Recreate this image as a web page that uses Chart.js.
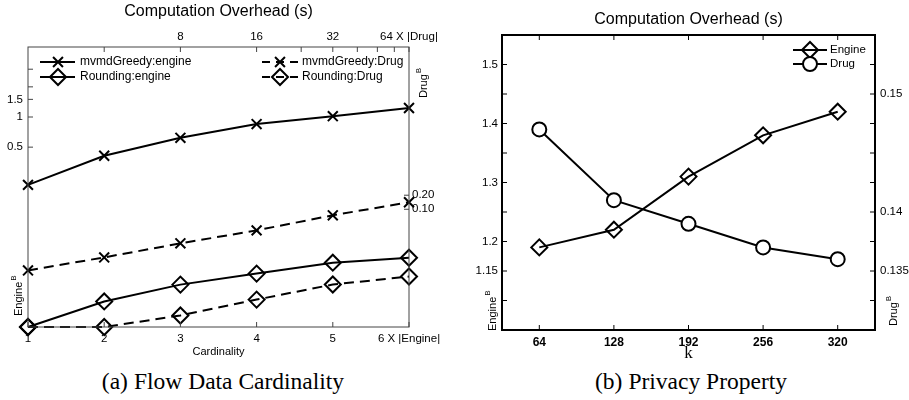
<!DOCTYPE html>
<html>
<head>
<meta charset="utf-8">
<script src="https://cdn.jsdelivr.net/npm/chart.js@4.4.0/dist/chart.umd.min.js"></script>
<style>
  body { margin: 0; background: #fff; width: 909px; height: 400px; position: relative; overflow: hidden; }
  .box { position: absolute; top: 0; height: 365px; }
  #boxA { left: 0; width: 455px; }
  #boxB { left: 455px; width: 454px; }
  .cap { position: absolute; top: 367px; line-height: 28px; font-family: "Liberation Serif", "Times New Roman", serif; font-size: 23.5px; color: #000; white-space: nowrap; transform: translateX(-50%); }
  .cap span { margin-right: 6px; }
</style>
</head>
<body>
<div class="box" id="boxA"><canvas id="chartA"></canvas></div>
<div class="box" id="boxB"><canvas id="chartB"></canvas></div>
<div class="cap" style="left:223px"><span>(a)</span>Flow Data Cardinality</div>
<div class="cap" style="left:691px"><span>(b)</span>Privacy Property</div>
<script>
// (a) cardinality sweep
const cardLabels = ['1', '2', '3', '4', '5', '6 X |Engine|'];
const greedyEngine = [0.21, 0.41, 0.62, 0.85, 1.02, 1.23];
const roundingEngine = [0.008, 0.0144, 0.0212, 0.0273, 0.0351, 0.0393];
const greedyDrug = [0.0049, 0.0093, 0.0186, 0.0353, 0.0743, 0.1415];
const roundingDrug = [0.0003, 0.0003, 0.00053, 0.00116, 0.00244, 0.00362];
const drugSizeTicks = [4, 8, 16, 24, 32, 40, 48, 56, 64];
const drugSizeLabels = { 8: '8', 16: '16', 32: '32', 64: '64 X |Drug|' };
const engineTicksA = [0.5, 1, 1.5, 2, 3];
const engineLabelsA = [0.5, 1, 1.5];
const drugTicksA = [0.1, 0.2];

// (b) privacy parameter k
const kLabels = ['64', '128', '192', '256', '320'];
const engineK = [1.19, 1.22, 1.31, 1.38, 1.42];
const drugK = [0.147, 0.141, 0.139, 0.137, 0.136];
const engineTicksB = [1.1, 1.15, 1.2, 1.25, 1.3, 1.35, 1.4, 1.45, 1.5];
const engineLabelsB = [1.15, 1.2, 1.3, 1.4, 1.5];
const drugTicksB = [0.1325, 0.135, 0.1375, 0.14, 0.1425, 0.145, 0.1475, 0.15, 0.1525];
const drugLabelsB = [0.135, 0.14, 0.15];

const SANS = '"Liberation Sans", Arial, Helvetica, sans-serif';
const SERIF = '"Liberation Serif", "Times New Roman", serif';

const fixTicks = list => scale => { scale.ticks = list.map(v => ({ value: v })); };
const fixWidth = w => scale => { scale.width = w; };
const fixHeight = h => scale => { scale.height = h; };
const hasVal = (list, v) => list.some(x => Math.abs(x - v) < 1e-9);
const noGrid = { display: false, drawTicks: false };

function line(label, data, axis, style, radius, dashed, fill) {
  return {
    label, data, yAxisID: axis,
    borderColor: '#000', borderWidth: 2, borderDash: dashed ? [10, 6] : [],
    pointStyle: style, pointRadius: radius, pointBorderWidth: 2,
    pointBorderColor: '#000', pointBackgroundColor: fill || 'rgba(0,0,0,0)',
    tension: 0, clip: false
  };
}

// title, box, inward tick marks, legend and rotated axis names
function decor(cfg) {
  return {
    id: 'decor',
    afterDraw(chart) {
      const ctx = chart.ctx, a = chart.chartArea;
      ctx.save();
      ctx.fillStyle = '#000';
      ctx.textAlign = 'center';
      ctx.textBaseline = 'middle';
      ctx.font = '16px ' + SANS;
      ctx.fillText('Computation Overhead (s)', (a.left + a.right) / 2, cfg.titleY);

      ctx.strokeStyle = cfg.frameColor;
      ctx.lineWidth = cfg.frameWidth;
      ctx.strokeRect(a.left, a.top, a.right - a.left, a.bottom - a.top);

      ctx.lineWidth = 1;
      cfg.ticks.forEach(([id, side]) => {
        const s = chart.scales[id];
        s.ticks.forEach((t, i) => {
          const p = s.getPixelForTick(i);
          ctx.beginPath();
          if (side === 'bottom') { ctx.moveTo(p, a.bottom); ctx.lineTo(p, a.bottom - 5); }
          if (side === 'top') { ctx.moveTo(p, a.top); ctx.lineTo(p, a.top + 5); }
          if (side === 'left') { ctx.moveTo(a.left, p); ctx.lineTo(a.left + 5, p); }
          if (side === 'right') { ctx.moveTo(a.right, p); ctx.lineTo(a.right - 5, p); }
          ctx.stroke();
        });
      });

      ctx.textAlign = 'left';
      ctx.font = cfg.legendFont + ' ' + SANS;
      cfg.legend.forEach(it => {
        ctx.strokeStyle = '#000';
        ctx.lineWidth = 2;
        ctx.setLineDash(it.dash || []);
        ctx.beginPath();
        ctx.moveTo(it.x0, it.y);
        ctx.lineTo(it.x1, it.y);
        ctx.stroke();
        ctx.setLineDash([]);
        ctx.fillStyle = it.fill || 'rgba(0,0,0,0)';
        Chart.helpers.drawPoint(ctx, { pointStyle: it.style, radius: it.r, rotation: 0, borderWidth: 2 }, it.xm, it.y);
        ctx.fillStyle = '#000';
        ctx.fillText(it.text, it.tx, it.y);
      });

      cfg.names.forEach(n => {
        ctx.save();
        ctx.translate(n.x, n.y);
        ctx.rotate(-Math.PI / 2);
        ctx.textAlign = 'left';
        ctx.textBaseline = 'alphabetic';
        ctx.font = '11px ' + SANS;
        ctx.fillText(n.text, 0, 0);
        const w = ctx.measureText(n.text).width;
        ctx.font = '8px ' + SANS;
        ctx.fillText('B', w + 1, -6);
        ctx.restore();
      });
      ctx.restore();
    }
  };
}

const tickFont = { family: SANS, size: 11.5 };

new Chart(document.getElementById('chartA'), {
  type: 'line',
  data: {
    labels: cardLabels,
    datasets: [
      line('mvmdGreedy:engine', greedyEngine, 'y', 'crossRot', 7, false),
      line('Rounding:engine', roundingEngine, 'y', 'rectRot', 8, false),
      line('mvmdGreedy:Drug', greedyDrug, 'y1', 'crossRot', 7, true),
      line('Rounding:Drug', roundingDrug, 'y1', 'rectRot', 8, true)
    ]
  },
  options: {
    responsive: true, maintainAspectRatio: false, animation: false,
    layout: { padding: 0 },
    plugins: { legend: { display: false }, tooltip: { enabled: false } },
    scales: {
      x: {
        type: 'category', offset: false,
        grid: noGrid, border: { display: false },
        ticks: { font: tickFont, color: '#000', padding: 5, autoSkip: false, maxRotation: 0 },
        title: { display: true, text: 'Cardinality', font: { family: SANS, size: 11 }, color: '#000', padding: { bottom: 6 } },
        afterFit: fixHeight(38)
      },
      x2: {
        type: 'logarithmic', position: 'top', min: 2, max: 64,
        grid: noGrid, border: { display: false },
        ticks: { font: tickFont, color: '#000', padding: 3, autoSkip: false, maxRotation: 0,
          callback: v => drugSizeLabels[v] || '' },
        afterBuildTicks: fixTicks(drugSizeTicks),
        afterFit: fixHeight(47)
      },
      y: {
        type: 'logarithmic', position: 'left', min: 0.008, max: 5,
        grid: noGrid, border: { display: false },
        ticks: { font: tickFont, color: '#000', padding: 5,
          callback: v => hasVal(engineLabelsA, v) ? String(v) : '' },
        afterBuildTicks: fixTicks(engineTicksA),
        afterFit: fixWidth(28)
      },
      y1: {
        type: 'logarithmic', position: 'right', min: 0.0003, max: 300,
        grid: noGrid, border: { display: false },
        ticks: { font: tickFont, color: '#000', padding: 3,
          callback: v => v.toFixed(2) },
        afterBuildTicks: fixTicks(drugTicksA),
        afterFit: fixWidth(46)
      }
    }
  },
  plugins: [decor({
    titleY: 12, frameColor: '#444', frameWidth: 1, legendFont: '12px',
    ticks: [['x', 'bottom'], ['x2', 'top'], ['y', 'left'], ['y1', 'right']],
    legend: [
      { text: 'mvmdGreedy:engine', style: 'crossRot', r: 7, x0: 40, x1: 75, xm: 58, tx: 80, y: 62 },
      { text: 'Rounding:engine', style: 'rectRot', r: 8, x0: 40, x1: 75, xm: 58, tx: 80, y: 77 },
      { text: 'mvmdGreedy:Drug', style: 'crossRot', r: 7, x0: 262, x1: 298, xm: 280, tx: 302, y: 62, dash: [8, 6] },
      { text: 'Rounding:Drug', style: 'rectRot', r: 8, x0: 262, x1: 298, xm: 280, tx: 302, y: 77, dash: [8, 6] }
    ],
    names: [
      { text: 'Engine', x: 22, y: 316 },
      { text: 'Drug', x: 427, y: 98 }
    ]
  })]
});

new Chart(document.getElementById('chartB'), {
  type: 'line',
  data: {
    labels: kLabels,
    datasets: [
      line('Engine', engineK, 'y', 'rectRot', 8, false),
      line('Drug', drugK, 'y1', 'circle', 7, false, '#fff')
    ]
  },
  options: {
    responsive: true, maintainAspectRatio: false, animation: false,
    layout: { padding: { top: 35 } },
    plugins: { legend: { display: false }, tooltip: { enabled: false } },
    scales: {
      x: {
        type: 'category', offset: true,
        grid: noGrid, border: { display: false },
        ticks: { font: { family: SANS, size: 12, weight: 'bold' }, color: '#000', padding: 5, autoSkip: false, maxRotation: 0 },
        title: { display: true, text: 'k', font: { family: SERIF, size: 17 }, color: '#000', padding: { bottom: 1 } },
        afterFit: fixHeight(35)
      },
      y: {
        type: 'linear', position: 'left', min: 1.05, max: 1.55,
        grid: noGrid, border: { display: false },
        ticks: { font: tickFont, color: '#000', padding: 4,
          callback: v => hasVal(engineLabelsB, v) ? String(v) : '' },
        afterBuildTicks: fixTicks(engineTicksB),
        afterFit: fixWidth(47)
      },
      y1: {
        type: 'linear', position: 'right', min: 0.13, max: 0.155,
        grid: noGrid, border: { display: false },
        ticks: { font: tickFont, color: '#000', padding: 5,
          callback: v => hasVal(drugLabelsB, v) ? String(v) : '' },
        afterBuildTicks: fixTicks(drugTicksB),
        afterFit: fixWidth(34)
      }
    }
  },
  plugins: [decor({
    titleY: 20, frameColor: '#000', frameWidth: 2, legendFont: '11.5px',
    ticks: [['x', 'bottom'], ['x', 'top'], ['y', 'left'], ['y1', 'right']],
    legend: [
      { text: 'Engine', style: 'rectRot', r: 8, x0: 338, x1: 372, xm: 355, tx: 375, y: 50 },
      { text: 'Drug', style: 'circle', r: 7, x0: 338, x1: 372, xm: 355, tx: 375, y: 64, fill: '#fff' }
    ],
    names: [
      { text: 'Engine', x: 41, y: 331 },
      { text: 'Drug', x: 442, y: 326 }
    ]
  })]
});
</script>
</body>
</html>
